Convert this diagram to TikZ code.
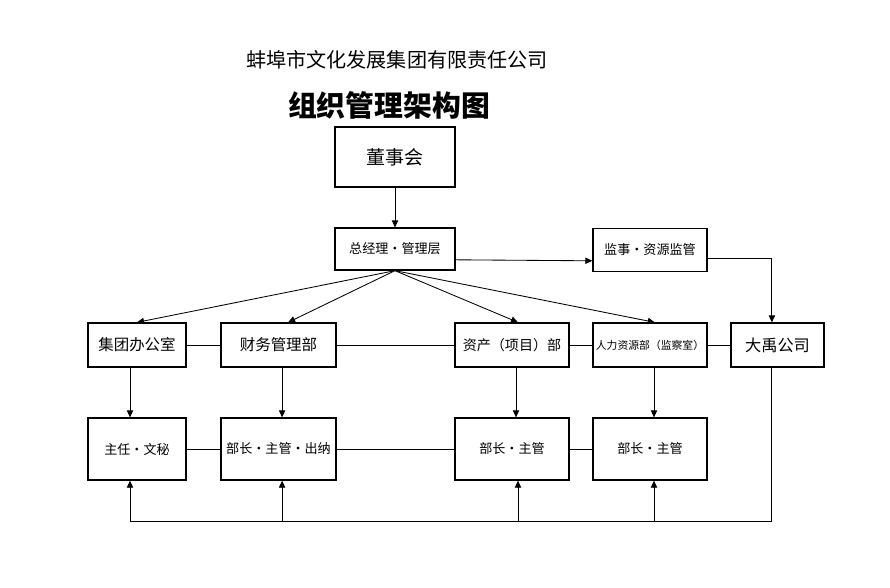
\documentclass[tikz,border=0pt]{standalone}
\usepackage{fontspec}
\setmainfont{Noto Sans CJK SC}
\usetikzlibrary{arrows.meta, positioning}

\begin{document}
\begin{tikzpicture}[
    x=0.025cm, y=-0.025cm,
    box/.style={rectangle, draw, line width=0.9pt, minimum width=2.85cm, minimum height=1.1cm, inner sep=1pt, text centered, font=\fontsize{9.3}{11}\selectfont},
    arrow/.style={-{Triangle[length=5pt, width=4.5pt]}, line width=0.6pt},
    link/.style={line width=0.6pt}
]
    \useasboundingbox (0,0) rectangle (890,587);

    % titles
    \node[font=\fontsize{14.3}{16}\selectfont] (company) at (397,60) {蚌埠市文化发展集团有限责任公司};
    \node[font=\bfseries\fontsize{20.5}{24}\selectfont] (title) at (389,105) {组织管理架构图};

    \node[box, minimum width=3cm, minimum height=1.5cm, font=\fontsize{13.5}{16}\selectfont] (board) at (395,157) {董事会};
    \node[box, minimum width=3cm, minimum height=1.05cm] (gm) at (395,249) {总经理•管理层};
    \node[box, minimum height=1.075cm] (supervisor) at (650,250) {监事•资源监管};

    % middle row
    \node[box, minimum width=2.45cm, font=\fontsize{11}{13}\selectfont] (office) at (137,345) {集团办公室};
    \node[box, minimum width=2.875cm, font=\fontsize{11}{13}\selectfont] (finance) at (278.5,345) {财务管理部};
    \node[box, font=\fontsize{10}{12}\selectfont] (assets) at (512,345) {资产（项目）部};
    \node[box, font=\fontsize{7.7}{9}\selectfont] (hr) at (650,345) {人力资源部（监察室）};
    \node[box, minimum width=2.325cm, font=\fontsize{11.5}{13}\selectfont] (dayu) at (777.5,345) {大禹公司};

    % bottom row
    \node[box, minimum width=2.45cm, minimum height=1.55cm] (secretary) at (137,449) {主任•文秘};
    \node[box, minimum width=2.875cm, minimum height=1.55cm] (cashier) at (278.5,449) {部长•主管•出纳};
    \node[box, minimum height=1.55cm] (assetmgr) at (512,449) {部长•主管};
    \node[box, minimum height=1.55cm] (hrmgr) at (650,449) {部长•主管};

    \draw[arrow] (board) -- (gm);
    \draw[arrow] ([yshift=-0.27cm]gm.east) -- ([yshift=-0.27cm]supervisor.west);
    \draw[arrow] ([yshift=-0.2cm]supervisor.east) -| ([xshift=-0.14cm]dayu.north);
    \foreach \dept/\dx in {office/0, finance/0.24, assets/0.15, hr/0.12}
        \draw[arrow] (gm.south) -- ([xshift=\dx cm]\dept.north);

    \draw[link] (office) -- (finance);
    \draw[link] (finance) -- (assets);
    \draw[link] (assets) -- (hr);
    \draw[link] (hr) -- (dayu);

    \draw[arrow] ([xshift=-0.175cm]office.south) -- ([xshift=-0.175cm]secretary.north);
    \draw[arrow] ([xshift=0.09cm]finance.south) -- ([xshift=0.09cm]cashier.north);
    \draw[arrow] ([xshift=0.1cm]assets.south) -- ([xshift=0.1cm]assetmgr.north);
    \draw[arrow] ([xshift=0.1cm]hr.south) -- ([xshift=0.1cm]hrmgr.north);

    \draw[link] (secretary) -- (cashier);
    \draw[link] (cashier) -- (assetmgr);
    \draw[link] (assetmgr) -- (hrmgr);

    % feedback line from the subsidiary
    \coordinate (back) at (130,521);
    \draw[link] ([xshift=-0.14cm]dayu.south) |- (back);
    \foreach \unit/\dx in {secretary/-0.175, cashier/0.09, assetmgr/0.15, hrmgr/0.1}
        \draw[arrow] ([xshift=\dx cm]\unit.south |- back) -- ([xshift=\dx cm]\unit.south);
\end{tikzpicture}
\end{document}
